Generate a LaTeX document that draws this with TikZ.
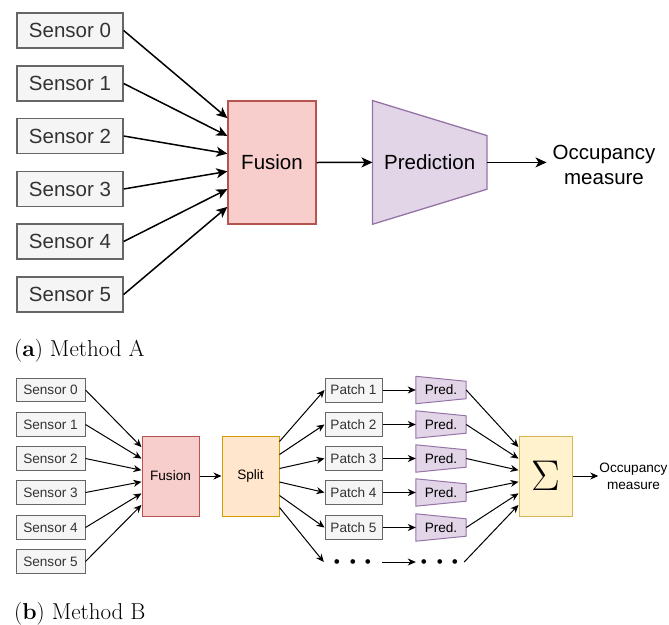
\RequirePackage{fix-cm}
\documentclass[tikz,border=0pt]{standalone}
\usepackage{fontspec}
\setsansfont{Liberation Sans}
\usetikzlibrary{arrows.meta,calc,backgrounds}

\definecolor{sensorFill}{HTML}{F5F5F5}
\definecolor{sensorDraw}{HTML}{666666}
\definecolor{sensorText}{HTML}{333333}
\definecolor{fusionFill}{HTML}{F8CECC}
\definecolor{fusionDraw}{HTML}{B85450}
\definecolor{predFill}{HTML}{E1D5E7}
\definecolor{predDraw}{HTML}{9673A6}
\definecolor{splitFill}{HTML}{FFE6CC}
\definecolor{splitDraw}{HTML}{D79B00}
\definecolor{sumFill}{HTML}{FFF2CC}
\definecolor{sumDraw}{HTML}{D6B656}

\begin{document}
\begin{tikzpicture}[x=1pt, y=-1pt,
        sensor/.style={rectangle, draw=sensorDraw, fill=sensorFill, text=sensorText, line width=1.3pt,
            minimum width=106pt, minimum height=35pt, inner sep=0pt, font=\sffamily\fontsize{20.5}{24}\selectfont},
        fusion/.style={rectangle, draw=fusionDraw, fill=fusionFill, line width=1.3pt,
            minimum width=88pt, minimum height=123pt, inner sep=0pt, font=\sffamily\fontsize{20.5}{24}\selectfont},
        pred/.style={rectangle, minimum width=114pt, minimum height=123.3pt, inner sep=0pt,
            font=\sffamily\fontsize{20.5}{24}\selectfont},
        predShape/.style={draw=predDraw, fill=predFill, line width=1.3pt},
        occ/.style={align=center, inner sep=6pt, font=\sffamily\fontsize{20.5}{25}\selectfont},
        arr/.style={line width=1.5pt, -{Stealth[length=11pt, width=10pt, inset=3pt]}},
        sensorSmall/.style={rectangle, draw=sensorDraw, fill=sensorFill, text=sensorText, line width=1pt,
            minimum width=69pt, minimum height=23.5pt, inner sep=0pt, font=\sffamily\fontsize{13.6}{16}\selectfont},
        fusionSmall/.style={rectangle, draw=fusionDraw, fill=fusionFill, line width=1pt,
            minimum width=57pt, minimum height=80pt, inner sep=0pt, font=\sffamily\fontsize{13.6}{16}\selectfont},
        splitSmall/.style={rectangle, draw=splitDraw, fill=splitFill, line width=1pt,
            minimum width=57pt, minimum height=80pt, inner sep=0pt, font=\sffamily\fontsize{13.6}{16}\selectfont},
        patchSmall/.style={rectangle, draw=sensorDraw, fill=sensorFill, text=sensorText, line width=1pt,
            minimum width=57pt, minimum height=24pt, inner sep=0pt, font=\sffamily\fontsize{13.6}{16}\selectfont},
        predSmall/.style={rectangle, minimum width=50pt, minimum height=27pt, inner sep=0pt,
            font=\sffamily\fontsize{13.6}{16}\selectfont},
        predShapeSmall/.style={draw=predDraw, fill=predFill, line width=1pt},
        sumSmall/.style={rectangle, draw=sumDraw, fill=sumFill, line width=1pt,
            minimum width=53pt, minimum height=80pt, inner sep=0pt, font=\fontsize{43}{43}\selectfont},
        occSmall/.style={align=center, inner sep=1pt, font=\sffamily\fontsize{13.6}{17}\selectfont},
        dotsSmall/.style={inner sep=0pt, minimum height=10pt, font=\fontsize{30}{30}\selectfont},
        arrSmall/.style={line width=1pt, -{Stealth[length=8pt, width=7pt, inset=2.5pt]}},
        caption/.style={inner sep=0pt, font=\rmfamily\fontsize{23}{27}\selectfont}]

        \useasboundingbox (0,0) rectangle (669,624);

        % (a) Method A
        \node[sensor] (sA0) at (70,30.5) {Sensor 0};
        \node[sensor] (sA1) at (70,83.5) {Sensor 1};
        \node[sensor] (sA2) at (70,136) {Sensor 2};
        \node[sensor] (sA3) at (70,189) {Sensor 3};
        \node[sensor] (sA4) at (70,241.5) {Sensor 4};
        \node[sensor] (sA5) at (70,294.5) {Sensor 5};

        \node[fusion] (fusA) at (272,162.5) {Fusion};
        \node[pred] (predA) at (429.7,162.4) {Prediction};
        \node[occ] (occA) at (604,164.5) {Occupancy\\measure};

        \draw[arr] (sA0.east) -- ($(fusA.north west)!1/7!(fusA.south west)$);
        \draw[arr] (sA1.east) -- ($(fusA.north west)!2/7!(fusA.south west)$);
        \draw[arr] (sA2.east) -- ($(fusA.north west)!3/7!(fusA.south west)$);
        \draw[arr] (sA3.east) -- ($(fusA.north west)!4/7!(fusA.south west)$);
        \draw[arr] (sA4.east) -- ($(fusA.north west)!5/7!(fusA.south west)$);
        \draw[arr] (sA5.east) -- ($(fusA.north west)!6/7!(fusA.south west)$);
        \draw[arr] (fusA.east) -- (predA.west);
        \draw[arr] (predA.east) -- (predA.east -| occA.west);

        \node[caption, anchor=base west] (capA) at (14,356) {(\textbf{a}) Method A};

        % (b) Method B
        \node[sensorSmall] (sB0) at (50.5,390) {Sensor 0};
        \node[sensorSmall] (sB1) at (50.5,424.5) {Sensor 1};
        \node[sensorSmall] (sB2) at (50.5,458.5) {Sensor 2};
        \node[sensorSmall] (sB3) at (50.5,492.5) {Sensor 3};
        \node[sensorSmall] (sB4) at (50.5,527.5) {Sensor 4};
        \node[sensorSmall] (sB5) at (50.5,561.5) {Sensor 5};

        \node[fusionSmall] (fusB) at (170.5,476) {Fusion};
        \node[splitSmall] (splitB) at (250.5,476) {Split};

        \node[patchSmall] (pB1) at (353.5,390) {Patch 1};
        \node[patchSmall] (pB2) at (353.5,424.5) {Patch 2};
        \node[patchSmall] (pB3) at (353.5,458.5) {Patch 3};
        \node[patchSmall] (pB4) at (353.5,492.5) {Patch 4};
        \node[patchSmall] (pB5) at (353.5,527.5) {Patch 5};
        \node[dotsSmall, minimum width=58pt] (dA) at (353,562) {\raisebox{-3pt}{\boldmath$\cdots$}};

        \node[predSmall] (qB1) at (441,390) {Pred.};
        \node[predSmall] (qB2) at (441,424.5) {Pred.};
        \node[predSmall] (qB3) at (441,458.5) {Pred.};
        \node[predSmall] (qB4) at (441,492.5) {Pred.};
        \node[predSmall] (qB5) at (441,527.5) {Pred.};
        \node[dotsSmall, minimum width=48pt] (dB) at (440,562) {\raisebox{-3pt}{\boldmath$\cdots$}};

        \node[sumSmall] (sumB) at (545.5,476) {$\Sigma$};
        \node[occSmall] (occB) at (633.5,476.5) {Occupancy\\measure};

        \draw[arrSmall] (sB0.east) -- ($(fusB.north west)!1/7!(fusB.south west)$);
        \draw[arrSmall] (sB1.east) -- ($(fusB.north west)!2/7!(fusB.south west)$);
        \draw[arrSmall] (sB2.east) -- ($(fusB.north west)!3/7!(fusB.south west)$);
        \draw[arrSmall] (sB3.east) -- ($(fusB.north west)!4/7!(fusB.south west)$);
        \draw[arrSmall] (sB4.east) -- ($(fusB.north west)!5/7!(fusB.south west)$);
        \draw[arrSmall] (sB5.east) -- ($(fusB.north west)!6/7!(fusB.south west)$);
        \draw[arrSmall] (fusB.east) -- (splitB.west);

        \draw[arrSmall] ([yshift=-6pt]splitB.north east) -- (pB1.west);
        \draw[arrSmall] ([yshift=-19pt]splitB.north east) -- (pB2.west);
        \draw[arrSmall] ([yshift=-33pt]splitB.north east) -- (pB3.west);
        \draw[arrSmall] ([yshift=-46.5pt]splitB.north east) -- (pB4.west);
        \draw[arrSmall] ([yshift=-60pt]splitB.north east) -- (pB5.west);
        \draw[arrSmall] ([yshift=-72pt]splitB.north east) -- (dA.west);

        \draw[arrSmall] (pB1.east) -- (qB1.west);
        \draw[arrSmall] (pB2.east) -- (qB2.west);
        \draw[arrSmall] (pB3.east) -- (qB3.west);
        \draw[arrSmall] (pB4.east) -- (qB4.west);
        \draw[arrSmall] (pB5.east) -- (qB5.west);
        \draw[arrSmall] (dA.east) -- (dB.west);

        \draw[arrSmall] (qB1.east) -- ($(sumB.north west)!1/7!(sumB.south west)$);
        \draw[arrSmall] (qB2.east) -- ($(sumB.north west)!2/7!(sumB.south west)$);
        \draw[arrSmall] (qB3.east) -- ($(sumB.north west)!3/7!(sumB.south west)$);
        \draw[arrSmall] (qB4.east) -- ($(sumB.north west)!4/7!(sumB.south west)$);
        \draw[arrSmall] (qB5.east) -- ($(sumB.north west)!5/7!(sumB.south west)$);
        \draw[arrSmall] (dB.east) -- ($(sumB.north west)!6/7!(sumB.south west)$);
        \draw[arrSmall] (sumB.east) -- (sumB.east -| occB.west);

        \node[caption, anchor=base west] (capB) at (14,619) {(\textbf{b}) Method B};

        % trapezoid outlines behind the prediction labels
        \begin{scope}[on background layer]
            \draw[predShape] (predA.north west) -- ([yshift=-35pt]predA.north east) -- ([yshift=35pt]predA.south east) -- (predA.south west) -- cycle;
            \draw[predShapeSmall] (qB1.north west) -- ([yshift=-5pt]qB1.north east) -- ([yshift=5pt]qB1.south east) -- (qB1.south west) -- cycle;
            \draw[predShapeSmall] (qB2.north west) -- ([yshift=-5pt]qB2.north east) -- ([yshift=5pt]qB2.south east) -- (qB2.south west) -- cycle;
            \draw[predShapeSmall] (qB3.north west) -- ([yshift=-5pt]qB3.north east) -- ([yshift=5pt]qB3.south east) -- (qB3.south west) -- cycle;
            \draw[predShapeSmall] (qB4.north west) -- ([yshift=-5pt]qB4.north east) -- ([yshift=5pt]qB4.south east) -- (qB4.south west) -- cycle;
            \draw[predShapeSmall] (qB5.north west) -- ([yshift=-5pt]qB5.north east) -- ([yshift=5pt]qB5.south east) -- (qB5.south west) -- cycle;
        \end{scope}
    \end{tikzpicture}
\end{document}
